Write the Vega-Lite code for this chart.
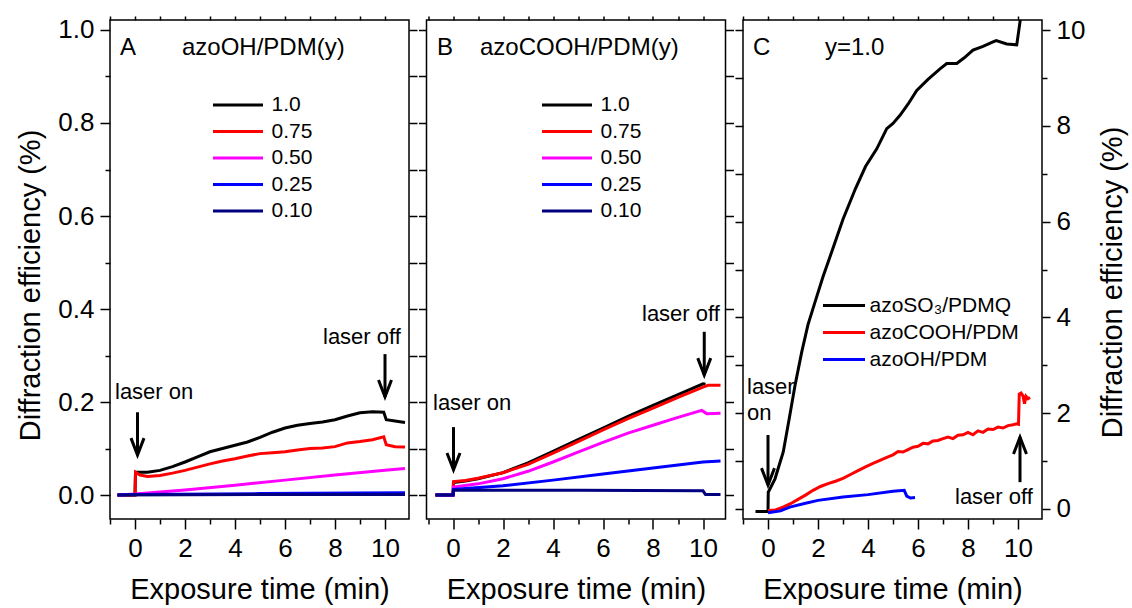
{
  "$schema": "https://vega.github.io/schema/vega-lite/v6.json",
  "background": "white",
  "padding": {"left": 16, "top": 14, "right": 4, "bottom": 4},
  "spacing": 17.5,
  "bounds": "flush",
  "resolve": {"scale": {"x": "independent", "y": "independent", "color": "independent"}, "legend": {"color": "independent"}},
  "datasets": {
    "A": [
      {"t": -0.7, "v": 0, "s": "1.0"}, {"t": 0, "v": 0, "s": "1.0"}, {"t": 0.02, "v": 0.049, "s": "1.0"}, {"t": 0.5, "v": 0.049, "s": "1.0"}, {"t": 1, "v": 0.053, "s": "1.0"}, {"t": 1.5, "v": 0.061, "s": "1.0"}, {"t": 2, "v": 0.071, "s": "1.0"}, {"t": 2.5, "v": 0.082, "s": "1.0"}, {"t": 3, "v": 0.093, "s": "1.0"}, {"t": 3.5, "v": 0.1, "s": "1.0"}, {"t": 4, "v": 0.107, "s": "1.0"}, {"t": 4.5, "v": 0.114, "s": "1.0"}, {"t": 5, "v": 0.124, "s": "1.0"}, {"t": 5.5, "v": 0.135, "s": "1.0"}, {"t": 6, "v": 0.144, "s": "1.0"}, {"t": 6.5, "v": 0.15, "s": "1.0"}, {"t": 7, "v": 0.154, "s": "1.0"}, {"t": 7.5, "v": 0.157, "s": "1.0"}, {"t": 8, "v": 0.162, "s": "1.0"}, {"t": 8.5, "v": 0.17, "s": "1.0"}, {"t": 9, "v": 0.177, "s": "1.0"}, {"t": 9.5, "v": 0.179, "s": "1.0"}, {"t": 9.95, "v": 0.178, "s": "1.0"}, {"t": 10.05, "v": 0.162, "s": "1.0"}, {"t": 10.4, "v": 0.159, "s": "1.0"}, {"t": 10.8, "v": 0.156, "s": "1.0"},
      {"t": -0.7, "v": 0, "s": "0.75"}, {"t": 0, "v": 0, "s": "0.75"}, {"t": 0.02, "v": 0.049, "s": "0.75"}, {"t": 0.2, "v": 0.043, "s": "0.75"}, {"t": 0.5, "v": 0.04, "s": "0.75"}, {"t": 1, "v": 0.042, "s": "0.75"}, {"t": 1.5, "v": 0.047, "s": "0.75"}, {"t": 2, "v": 0.053, "s": "0.75"}, {"t": 2.5, "v": 0.06, "s": "0.75"}, {"t": 3, "v": 0.067, "s": "0.75"}, {"t": 3.5, "v": 0.073, "s": "0.75"}, {"t": 4, "v": 0.078, "s": "0.75"}, {"t": 4.5, "v": 0.084, "s": "0.75"}, {"t": 5, "v": 0.089, "s": "0.75"}, {"t": 5.5, "v": 0.091, "s": "0.75"}, {"t": 6, "v": 0.093, "s": "0.75"}, {"t": 6.5, "v": 0.097, "s": "0.75"}, {"t": 7, "v": 0.1, "s": "0.75"}, {"t": 7.5, "v": 0.101, "s": "0.75"}, {"t": 8, "v": 0.104, "s": "0.75"}, {"t": 8.5, "v": 0.112, "s": "0.75"}, {"t": 9, "v": 0.115, "s": "0.75"}, {"t": 9.5, "v": 0.119, "s": "0.75"}, {"t": 9.95, "v": 0.125, "s": "0.75"}, {"t": 10.05, "v": 0.108, "s": "0.75"}, {"t": 10.4, "v": 0.104, "s": "0.75"}, {"t": 10.8, "v": 0.103, "s": "0.75"},
      {"t": -0.7, "v": 0, "s": "0.50"}, {"t": 0, "v": 0.002, "s": "0.50"}, {"t": 2, "v": 0.011, "s": "0.50"}, {"t": 4, "v": 0.021, "s": "0.50"}, {"t": 6, "v": 0.032, "s": "0.50"}, {"t": 8, "v": 0.043, "s": "0.50"}, {"t": 10, "v": 0.053, "s": "0.50"}, {"t": 10.8, "v": 0.057, "s": "0.50"},
      {"t": -0.7, "v": 0, "s": "0.25"}, {"t": 0, "v": 0.001, "s": "0.25"}, {"t": 5, "v": 0.003, "s": "0.25"}, {"t": 10.8, "v": 0.005, "s": "0.25"},
      {"t": -0.7, "v": 0, "s": "0.10"}, {"t": 5, "v": 0.001, "s": "0.10"}, {"t": 10.8, "v": 0.001, "s": "0.10"}
    ],
    "B": [
      {"t": -0.7, "v": 0, "s": "1.0"}, {"t": 0, "v": 0, "s": "1.0"}, {"t": 0.02, "v": 0.027, "s": "1.0"}, {"t": 0.5, "v": 0.03, "s": "1.0"}, {"t": 1, "v": 0.035, "s": "1.0"}, {"t": 2, "v": 0.048, "s": "1.0"}, {"t": 3, "v": 0.069, "s": "1.0"}, {"t": 4, "v": 0.094, "s": "1.0"}, {"t": 5, "v": 0.119, "s": "1.0"}, {"t": 6, "v": 0.144, "s": "1.0"}, {"t": 7, "v": 0.169, "s": "1.0"}, {"t": 8, "v": 0.193, "s": "1.0"}, {"t": 9, "v": 0.216, "s": "1.0"}, {"t": 10, "v": 0.239, "s": "1.0"}, {"t": 10.1, "v": 0.238, "s": "1.0"},
      {"t": -0.7, "v": 0, "s": "0.75"}, {"t": 0, "v": 0, "s": "0.75"}, {"t": 0.02, "v": 0.029, "s": "0.75"}, {"t": 0.5, "v": 0.031, "s": "0.75"}, {"t": 1, "v": 0.036, "s": "0.75"}, {"t": 2, "v": 0.048, "s": "0.75"}, {"t": 3, "v": 0.066, "s": "0.75"}, {"t": 4, "v": 0.09, "s": "0.75"}, {"t": 5, "v": 0.115, "s": "0.75"}, {"t": 6, "v": 0.14, "s": "0.75"}, {"t": 7, "v": 0.164, "s": "0.75"}, {"t": 8, "v": 0.187, "s": "0.75"}, {"t": 9, "v": 0.21, "s": "0.75"}, {"t": 10, "v": 0.232, "s": "0.75"}, {"t": 10.2, "v": 0.236, "s": "0.75"}, {"t": 10.7, "v": 0.236, "s": "0.75"},
      {"t": -0.7, "v": 0, "s": "0.50"}, {"t": 0, "v": 0, "s": "0.50"}, {"t": 0.02, "v": 0.017, "s": "0.50"}, {"t": 1, "v": 0.024, "s": "0.50"}, {"t": 2, "v": 0.035, "s": "0.50"}, {"t": 3, "v": 0.051, "s": "0.50"}, {"t": 4, "v": 0.071, "s": "0.50"}, {"t": 5, "v": 0.092, "s": "0.50"}, {"t": 6, "v": 0.113, "s": "0.50"}, {"t": 7, "v": 0.133, "s": "0.50"}, {"t": 8, "v": 0.15, "s": "0.50"}, {"t": 9, "v": 0.167, "s": "0.50"}, {"t": 9.95, "v": 0.182, "s": "0.50"}, {"t": 10.15, "v": 0.175, "s": "0.50"}, {"t": 10.7, "v": 0.176, "s": "0.50"},
      {"t": -0.7, "v": 0, "s": "0.25"}, {"t": 0, "v": 0, "s": "0.25"}, {"t": 0.02, "v": 0.012, "s": "0.25"}, {"t": 2, "v": 0.02, "s": "0.25"}, {"t": 4, "v": 0.032, "s": "0.25"}, {"t": 6, "v": 0.045, "s": "0.25"}, {"t": 8, "v": 0.058, "s": "0.25"}, {"t": 10, "v": 0.071, "s": "0.25"}, {"t": 10.7, "v": 0.073, "s": "0.25"},
      {"t": -0.7, "v": 0, "s": "0.10"}, {"t": 0, "v": 0, "s": "0.10"}, {"t": 0.02, "v": 0.01, "s": "0.10"}, {"t": 5, "v": 0.01, "s": "0.10"}, {"t": 10, "v": 0.009, "s": "0.10"}, {"t": 10.1, "v": 0.001, "s": "0.10"}, {"t": 10.7, "v": 0.001, "s": "0.10"}
    ],
    "C": [
      {"t": -0.5, "v": -0.05, "s": "azoSO₃/PDMQ"}, {"t": 0, "v": -0.05, "s": "azoSO₃/PDMQ"}, {"t": 0.01, "v": 0.35, "s": "azoSO₃/PDMQ"}, {"t": 0.28, "v": 0.63, "s": "azoSO₃/PDMQ"}, {"t": 0.61, "v": 1.19, "s": "azoSO₃/PDMQ"}, {"t": 0.85, "v": 1.89, "s": "azoSO₃/PDMQ"}, {"t": 1.08, "v": 2.58, "s": "azoSO₃/PDMQ"}, {"t": 1.35, "v": 3.28, "s": "azoSO₃/PDMQ"}, {"t": 1.6, "v": 3.85, "s": "azoSO₃/PDMQ"}, {"t": 1.88, "v": 4.32, "s": "azoSO₃/PDMQ"}, {"t": 2.2, "v": 4.85, "s": "azoSO₃/PDMQ"}, {"t": 2.55, "v": 5.37, "s": "azoSO₃/PDMQ"}, {"t": 3.0, "v": 6.05, "s": "azoSO₃/PDMQ"}, {"t": 3.5, "v": 6.69, "s": "azoSO₃/PDMQ"}, {"t": 3.9, "v": 7.15, "s": "azoSO₃/PDMQ"}, {"t": 4.35, "v": 7.52, "s": "azoSO₃/PDMQ"}, {"t": 4.75, "v": 7.94, "s": "azoSO₃/PDMQ"}, {"t": 5.0, "v": 8.05, "s": "azoSO₃/PDMQ"}, {"t": 5.28, "v": 8.22, "s": "azoSO₃/PDMQ"}, {"t": 5.6, "v": 8.45, "s": "azoSO₃/PDMQ"}, {"t": 5.95, "v": 8.74, "s": "azoSO₃/PDMQ"}, {"t": 6.4, "v": 8.97, "s": "azoSO₃/PDMQ"}, {"t": 6.88, "v": 9.19, "s": "azoSO₃/PDMQ"}, {"t": 7.15, "v": 9.3, "s": "azoSO₃/PDMQ"}, {"t": 7.55, "v": 9.3, "s": "azoSO₃/PDMQ"}, {"t": 7.85, "v": 9.42, "s": "azoSO₃/PDMQ"}, {"t": 8.2, "v": 9.58, "s": "azoSO₃/PDMQ"}, {"t": 8.6, "v": 9.66, "s": "azoSO₃/PDMQ"}, {"t": 9.0, "v": 9.75, "s": "azoSO₃/PDMQ"}, {"t": 9.13, "v": 9.78, "s": "azoSO₃/PDMQ"}, {"t": 9.55, "v": 9.71, "s": "azoSO₃/PDMQ"}, {"t": 9.95, "v": 9.69, "s": "azoSO₃/PDMQ"}, {"t": 10.08, "v": 10.17, "s": "azoSO₃/PDMQ"}, {"t": 10.25, "v": 11.0, "s": "azoSO₃/PDMQ"},
      {"t": 0, "v": -0.03, "s": "azoCOOH/PDM"}, {"t": 0.3, "v": -0.02, "s": "azoCOOH/PDM"}, {"t": 0.6, "v": 0.04, "s": "azoCOOH/PDM"}, {"t": 0.9, "v": 0.11, "s": "azoCOOH/PDM"}, {"t": 1.2, "v": 0.2, "s": "azoCOOH/PDM"}, {"t": 1.5, "v": 0.29, "s": "azoCOOH/PDM"}, {"t": 1.8, "v": 0.39, "s": "azoCOOH/PDM"}, {"t": 2.1, "v": 0.47, "s": "azoCOOH/PDM"}, {"t": 2.4, "v": 0.53, "s": "azoCOOH/PDM"}, {"t": 2.7, "v": 0.58, "s": "azoCOOH/PDM"}, {"t": 3.0, "v": 0.64, "s": "azoCOOH/PDM"}, {"t": 3.3, "v": 0.72, "s": "azoCOOH/PDM"}, {"t": 3.6, "v": 0.8, "s": "azoCOOH/PDM"}, {"t": 3.9, "v": 0.88, "s": "azoCOOH/PDM"}, {"t": 4.2, "v": 0.95, "s": "azoCOOH/PDM"}, {"t": 4.5, "v": 1.02, "s": "azoCOOH/PDM"}, {"t": 4.8, "v": 1.09, "s": "azoCOOH/PDM"}, {"t": 5.0, "v": 1.13, "s": "azoCOOH/PDM"}, {"t": 5.2, "v": 1.2, "s": "azoCOOH/PDM"}, {"t": 5.4, "v": 1.19, "s": "azoCOOH/PDM"}, {"t": 5.6, "v": 1.24, "s": "azoCOOH/PDM"}, {"t": 5.8, "v": 1.29, "s": "azoCOOH/PDM"}, {"t": 6.0, "v": 1.31, "s": "azoCOOH/PDM"}, {"t": 6.2, "v": 1.37, "s": "azoCOOH/PDM"}, {"t": 6.4, "v": 1.36, "s": "azoCOOH/PDM"}, {"t": 6.6, "v": 1.42, "s": "azoCOOH/PDM"}, {"t": 6.8, "v": 1.43, "s": "azoCOOH/PDM"}, {"t": 7.0, "v": 1.47, "s": "azoCOOH/PDM"}, {"t": 7.2, "v": 1.5, "s": "azoCOOH/PDM"}, {"t": 7.4, "v": 1.47, "s": "azoCOOH/PDM"}, {"t": 7.6, "v": 1.54, "s": "azoCOOH/PDM"}, {"t": 7.8, "v": 1.55, "s": "azoCOOH/PDM"}, {"t": 8.0, "v": 1.6, "s": "azoCOOH/PDM"}, {"t": 8.2, "v": 1.55, "s": "azoCOOH/PDM"}, {"t": 8.4, "v": 1.63, "s": "azoCOOH/PDM"}, {"t": 8.6, "v": 1.6, "s": "azoCOOH/PDM"}, {"t": 8.8, "v": 1.67, "s": "azoCOOH/PDM"}, {"t": 9.0, "v": 1.66, "s": "azoCOOH/PDM"}, {"t": 9.2, "v": 1.71, "s": "azoCOOH/PDM"}, {"t": 9.4, "v": 1.69, "s": "azoCOOH/PDM"}, {"t": 9.6, "v": 1.74, "s": "azoCOOH/PDM"}, {"t": 9.8, "v": 1.76, "s": "azoCOOH/PDM"}, {"t": 9.95, "v": 1.78, "s": "azoCOOH/PDM"}, {"t": 10.02, "v": 1.77, "s": "azoCOOH/PDM"}, {"t": 10.05, "v": 2.4, "s": "azoCOOH/PDM"}, {"t": 10.12, "v": 2.42, "s": "azoCOOH/PDM"}, {"t": 10.2, "v": 2.36, "s": "azoCOOH/PDM"}, {"t": 10.26, "v": 2.2, "s": "azoCOOH/PDM"}, {"t": 10.32, "v": 2.35, "s": "azoCOOH/PDM"}, {"t": 10.4, "v": 2.3, "s": "azoCOOH/PDM"}, {"t": 10.48, "v": 2.33, "s": "azoCOOH/PDM"},
      {"t": 0, "v": -0.08, "s": "azoOH/PDM"}, {"t": 0.5, "v": -0.04, "s": "azoOH/PDM"}, {"t": 0.87, "v": 0.04, "s": "azoOH/PDM"}, {"t": 1.5, "v": 0.12, "s": "azoOH/PDM"}, {"t": 2, "v": 0.18, "s": "azoOH/PDM"}, {"t": 3, "v": 0.25, "s": "azoOH/PDM"}, {"t": 4, "v": 0.3, "s": "azoOH/PDM"}, {"t": 5, "v": 0.37, "s": "azoOH/PDM"}, {"t": 5.45, "v": 0.39, "s": "azoOH/PDM"}, {"t": 5.55, "v": 0.27, "s": "azoOH/PDM"}, {"t": 5.7, "v": 0.23, "s": "azoOH/PDM"}, {"t": 5.88, "v": 0.24, "s": "azoOH/PDM"}
    ],
    "txtA": [
      {"t": -0.6, "v": 0.946, "label": "A", "k": "h"},
      {"t": 1.88, "v": 0.946, "label": "azoOH/PDM(y)", "k": "h"},
      {"t": -0.8, "v": 0.2065, "label": "laser on", "k": "l"},
      {"t": 7.52, "v": 0.3254, "label": "laser off", "k": "l"}
    ],
    "txtB": [
      {"t": -0.64, "v": 0.946, "label": "B", "k": "h"},
      {"t": 1.08, "v": 0.946, "label": "azoCOOH/PDM(y)", "k": "h"},
      {"t": -0.8, "v": 0.182, "label": "laser on", "k": "l"},
      {"t": 7.56, "v": 0.3735, "label": "laser off", "k": "l"}
    ],
    "txtC": [
      {"t": -0.6, "v": 9.48, "label": "C", "k": "h"},
      {"t": 2.28, "v": 9.48, "label": "y=1.0", "k": "h"},
      {"t": -0.84, "v": 2.41, "label": "laser", "k": "l"},
      {"t": -0.84, "v": 1.86, "label": "on", "k": "l"},
      {"t": 7.48, "v": 0.11, "label": "laser off", "k": "l"}
    ],
    "arrA": [{"t": 0.1, "v": 0.178, "v2": 0.086}, {"t": 10.0, "v": 0.303, "v2": 0.211}],
    "arrB": [{"t": 0.02, "v": 0.146, "v2": 0.054}, {"t": 10.05, "v": 0.351, "v2": 0.258}],
    "arrC": [{"t": 0, "v": 1.545, "v2": 0.5, "d": "down"}, {"t": 10.08, "v": 0.56, "v2": 1.5, "d": "up"}]
  },
  "hconcat": [
    {
      "width": 299, "height": 499,
      "resolve": {"axis": {"x": "independent", "y": "independent"}},
      "layer": [
        {
          "data": {"name": "A"},
          "mark": {"type": "line", "strokeWidth": 3, "clip": true},
          "encoding": {
            "x": {"field": "t", "type": "quantitative", "scale": {"domain": [-1, 10.96], "nice": false, "zero": false},
              "axis": {"orient": "bottom", "values": [-1, 0, 1, 2, 3, 4, 5, 6, 7, 8, 9, 10, 11], "tickSize": {"condition": {"test": "datum.value % 2 === 0", "value": 10}, "value": 5}, "labelExpr": "datum.value % 2 === 0 && datum.value >= 0 && datum.value <= 10 ? datum.label : ''", "labelPadding": 6, "labelOverlap": false, "labelFlush": false, "title": "Exposure time (min)", "titlePadding": 14}},
            "y": {"field": "v", "type": "quantitative", "scale": {"domain": [-0.0516, 1.0215], "nice": false, "zero": false},
              "axis": {"orient": "left", "values": [0, 0.1, 0.2, 0.3, 0.4, 0.5, 0.6, 0.7, 0.8, 0.9, 1.0], "format": ".1f", "tickSize": {"condition": {"test": "round(datum.value * 10) % 2 === 0", "value": 10}, "value": 5}, "labelExpr": "round(datum.value * 10) % 2 === 0 ? datum.label : ''", "labelPadding": 6, "labelOverlap": false, "title": "Diffraction efficiency (%)", "titlePadding": 12, "titleY": 265}},
            "color": {"field": "s", "type": "nominal", "sort": null,
              "scale": {"domain": ["1.0", "0.75", "0.50", "0.25", "0.10"], "range": ["#000000", "#ff0000", "#ff00ff", "#0000ff", "#000080"]},
              "legend": {"title": null, "orient": "none", "legendX": 103, "legendY": 74.5, "direction": "vertical", "symbolType": "M-3,0H3", "symbolSize": 278, "symbolOffset": 14.5, "symbolStrokeWidth": 3, "labelFontSize": 21, "labelOffset": 23, "rowPadding": 4.5, "padding": 0}}
          }
        },
        {
          "data": {"name": "txtA"},
          "transform": [{"filter": "datum.k === 'h'"}],
          "mark": {"type": "text", "fontSize": 24, "align": "left", "baseline": "alphabetic", "color": "black"},
          "encoding": {
            "x": {"field": "t", "type": "quantitative", "axis": {"orient": "top", "values": [-1, 0, 1, 2, 3, 4, 5, 6, 7, 8, 9, 10, 11], "labels": false, "title": null, "tickSize": 4}},
            "y": {"field": "v", "type": "quantitative", "axis": {"orient": "right", "values": [0, 0.1, 0.2, 0.3, 0.4, 0.5, 0.6, 0.7, 0.8, 0.9, 1.0], "labels": false, "title": null, "tickSize": 8}},
            "text": {"field": "label"}
          }
        },
        {
          "data": {"name": "txtA"},
          "transform": [{"filter": "datum.k === 'l'"}],
          "mark": {"type": "text", "fontSize": 22, "align": "left", "baseline": "alphabetic", "color": "black"},
          "encoding": {
            "x": {"field": "t", "type": "quantitative", "axis": null},
            "y": {"field": "v", "type": "quantitative", "axis": null},
            "text": {"field": "label"}
          }
        },
        {
          "data": {"name": "arrA"},
          "mark": {"type": "rule", "strokeWidth": 3, "color": "black"},
          "encoding": {
            "x": {"field": "t", "type": "quantitative", "axis": null},
            "y": {"field": "v", "type": "quantitative", "axis": null},
            "y2": {"field": "v2"}
          }
        },
        {
          "data": {"name": "arrA"},
          "mark": {"type": "point", "shape": "M-0.5,-1.3L0,0L0.5,-1.3", "size": 676, "filled": false, "stroke": "black", "strokeWidth": 3, "opacity": 1},
          "encoding": {
            "x": {"field": "t", "type": "quantitative", "axis": null},
            "y": {"field": "v2", "type": "quantitative", "axis": null}
          }
        }
      ]
    },
    {
      "width": 299, "height": 499,
      "resolve": {"axis": {"x": "independent", "y": "independent"}},
      "layer": [
        {
          "data": {"name": "B"},
          "mark": {"type": "line", "strokeWidth": 3, "clip": true},
          "encoding": {
            "x": {"field": "t", "type": "quantitative", "scale": {"domain": [-1.06, 10.9], "nice": false, "zero": false},
              "axis": {"orient": "bottom", "values": [-1, 0, 1, 2, 3, 4, 5, 6, 7, 8, 9, 10], "tickSize": {"condition": {"test": "datum.value % 2 === 0", "value": 10}, "value": 5}, "labelExpr": "datum.value % 2 === 0 && datum.value >= 0 && datum.value <= 10 ? datum.label : ''", "labelPadding": 6, "labelOverlap": false, "labelFlush": false, "title": "Exposure time (min)", "titlePadding": 14}},
            "y": {"field": "v", "type": "quantitative", "scale": {"domain": [-0.0516, 1.0215], "nice": false, "zero": false},
              "axis": {"orient": "left", "values": [0, 0.1, 0.2, 0.3, 0.4, 0.5, 0.6, 0.7, 0.8, 0.9, 1.0], "labels": false, "title": null, "tickSize": 8}},
            "color": {"field": "s", "type": "nominal", "sort": null,
              "scale": {"domain": ["1.0", "0.75", "0.50", "0.25", "0.10"], "range": ["#000000", "#ff0000", "#ff00ff", "#0000ff", "#000080"]},
              "legend": {"title": null, "orient": "none", "legendX": 115.5, "legendY": 74.5, "direction": "vertical", "symbolType": "M-3,0H3", "symbolSize": 278, "symbolOffset": 14.5, "symbolStrokeWidth": 3, "labelFontSize": 21, "labelOffset": 23, "rowPadding": 4.5, "padding": 0}}
          }
        },
        {
          "data": {"name": "txtB"},
          "transform": [{"filter": "datum.k === 'h'"}],
          "mark": {"type": "text", "fontSize": 24, "align": "left", "baseline": "alphabetic", "color": "black"},
          "encoding": {
            "x": {"field": "t", "type": "quantitative", "axis": {"orient": "top", "values": [-1, 0, 1, 2, 3, 4, 5, 6, 7, 8, 9, 10], "labels": false, "title": null, "tickSize": 4}},
            "y": {"field": "v", "type": "quantitative", "axis": {"orient": "right", "values": [0, 0.1, 0.2, 0.3, 0.4, 0.5, 0.6, 0.7, 0.8, 0.9, 1.0], "labels": false, "title": null, "tickSize": 8}},
            "text": {"field": "label"}
          }
        },
        {
          "data": {"name": "txtB"},
          "transform": [{"filter": "datum.k === 'l'"}],
          "mark": {"type": "text", "fontSize": 22, "align": "left", "baseline": "alphabetic", "color": "black"},
          "encoding": {
            "x": {"field": "t", "type": "quantitative", "axis": null},
            "y": {"field": "v", "type": "quantitative", "axis": null},
            "text": {"field": "label"}
          }
        },
        {
          "data": {"name": "arrB"},
          "mark": {"type": "rule", "strokeWidth": 3, "color": "black"},
          "encoding": {
            "x": {"field": "t", "type": "quantitative", "axis": null},
            "y": {"field": "v", "type": "quantitative", "axis": null},
            "y2": {"field": "v2"}
          }
        },
        {
          "data": {"name": "arrB"},
          "mark": {"type": "point", "shape": "M-0.5,-1.3L0,0L0.5,-1.3", "size": 676, "filled": false, "stroke": "black", "strokeWidth": 3, "opacity": 1},
          "encoding": {
            "x": {"field": "t", "type": "quantitative", "axis": null},
            "y": {"field": "v2", "type": "quantitative", "axis": null}
          }
        }
      ]
    },
    {
      "width": 299, "height": 499,
      "resolve": {"axis": {"x": "independent", "y": "independent"}},
      "layer": [
        {
          "data": {"name": "C"},
          "mark": {"type": "line", "strokeWidth": 3, "clip": true},
          "encoding": {
            "x": {"field": "t", "type": "quantitative", "scale": {"domain": [-1, 10.96], "nice": false, "zero": false},
              "axis": {"orient": "bottom", "values": [-1, 0, 1, 2, 3, 4, 5, 6, 7, 8, 9, 10], "tickSize": {"condition": {"test": "datum.value % 2 === 0", "value": 10}, "value": 5}, "labelExpr": "datum.value % 2 === 0 && datum.value >= 0 && datum.value <= 10 ? datum.label : ''", "labelPadding": 6, "labelOverlap": false, "labelFlush": false, "title": "Exposure time (min)", "titlePadding": 14}},
            "y": {"field": "v", "type": "quantitative", "scale": {"domain": [-0.209, 10.209], "nice": false, "zero": false},
              "axis": {"orient": "right", "values": [0, 1, 2, 3, 4, 5, 6, 7, 8, 9, 10], "tickSize": {"condition": {"test": "datum.value % 2 === 0", "value": 8}, "value": 5}, "labelExpr": "datum.value % 2 === 0 ? datum.label : ''", "labelPadding": 6, "labelOverlap": false, "title": "Diffraction efficiency (%)", "titlePadding": 14, "titleAngle": 270, "titleBaseline": "top", "titleY": 262}},
            "color": {"field": "s", "type": "nominal", "sort": null,
              "scale": {"domain": ["azoSO₃/PDMQ", "azoCOOH/PDM", "azoOH/PDM"], "range": ["#000000", "#ff0000", "#0000ff"]},
              "legend": {"title": null, "orient": "none", "legendX": 80, "legendY": 275, "direction": "vertical", "symbolType": "M-3,0H3", "symbolSize": 196, "symbolOffset": 10.5, "symbolStrokeWidth": 3, "labelFontSize": 21, "labelOffset": 15, "rowPadding": 5, "padding": 0}}
          }
        },
        {
          "data": {"name": "txtC"},
          "transform": [{"filter": "datum.k === 'h'"}],
          "mark": {"type": "text", "fontSize": 24, "align": "left", "baseline": "alphabetic", "color": "black"},
          "encoding": {
            "x": {"field": "t", "type": "quantitative", "axis": {"orient": "top", "values": [-1, 0, 1, 2, 3, 4, 5, 6, 7, 8, 9, 10], "labels": false, "title": null, "tickSize": 4}},
            "y": {"field": "v", "type": "quantitative", "axis": {"orient": "left", "values": [0, 1, 2, 3, 4, 5, 6, 7, 8, 9, 10], "labels": false, "title": null, "tickSize": 8}},
            "text": {"field": "label"}
          }
        },
        {
          "data": {"name": "txtC"},
          "transform": [{"filter": "datum.k === 'l'"}],
          "mark": {"type": "text", "fontSize": 22, "align": "left", "baseline": "alphabetic", "color": "black"},
          "encoding": {
            "x": {"field": "t", "type": "quantitative", "axis": null},
            "y": {"field": "v", "type": "quantitative", "axis": null},
            "text": {"field": "label"}
          }
        },
        {
          "data": {"name": "arrC"},
          "mark": {"type": "rule", "strokeWidth": 3, "color": "black"},
          "encoding": {
            "x": {"field": "t", "type": "quantitative", "axis": null},
            "y": {"field": "v", "type": "quantitative", "axis": null},
            "y2": {"field": "v2"}
          }
        },
        {
          "data": {"name": "arrC"},
          "transform": [{"filter": "datum.d === 'down'"}],
          "mark": {"type": "point", "shape": "M-0.5,-1.3L0,0L0.5,-1.3", "size": 676, "filled": false, "stroke": "black", "strokeWidth": 3, "opacity": 1},
          "encoding": {
            "x": {"field": "t", "type": "quantitative", "axis": null},
            "y": {"field": "v2", "type": "quantitative", "axis": null}
          }
        },
        {
          "data": {"name": "arrC"},
          "transform": [{"filter": "datum.d === 'up'"}],
          "mark": {"type": "point", "shape": "M-0.5,1.3L0,0L0.5,1.3", "size": 676, "filled": false, "stroke": "black", "strokeWidth": 3, "opacity": 1},
          "encoding": {
            "x": {"field": "t", "type": "quantitative", "axis": null},
            "y": {"field": "v2", "type": "quantitative", "axis": null}
          }
        }
      ]
    }
  ],
  "config": {
    "font": "Liberation Sans",
    "view": {"stroke": "black", "strokeWidth": 1.5},
    "axis": {"grid": false, "domain": false, "tickColor": "black", "tickWidth": 1.5, "labelFont": "Liberation Sans", "labelFontSize": 26, "labelColor": "black", "titleFont": "Liberation Sans", "titleFontSize": 29, "titleFontWeight": "normal", "titleColor": "black"},
    "legend": {"labelFont": "Liberation Sans", "labelColor": "black"},
    "text": {"font": "Liberation Sans"}
  }
}
